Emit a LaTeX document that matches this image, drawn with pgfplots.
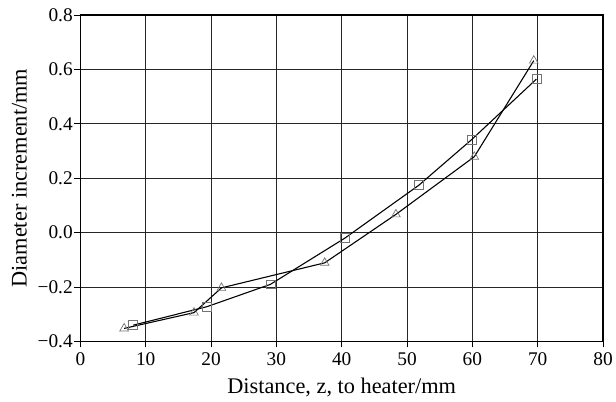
\documentclass[border=0pt]{standalone}
\usepackage{fontspec}
\setmainfont{Liberation Serif}
\usepackage{pgfplots}
\pgfplotsset{compat=1.18}

\begin{document}
\begin{tikzpicture}[x=1bp,y=1bp]
\begin{axis}[
    name=ax,
    scale only axis,
    width=525bp, height=328bp,
    xmin=0, xmax=80, ymin=-0.4, ymax=0.8,
    xtick={0,10,...,80},
    ytick={-0.4,-0.2,0,0.2,0.4,0.6,0.8},
    yticklabels={−0.4,−0.2,0.0,0.2,0.4,0.6,0.8},
    xtick pos=bottom, ytick pos=left,
    tick align=outside,
    major tick length=6bp,
    tick style={line width=0.8pt, black},
    grid=major,
    grid style={line width=1pt, draw=black!85},
    axis line style={line width=1.2pt},
    /pgf/number format/assume math mode=true,
    tick label style={font=\fontsize{19.5}{21}\selectfont},
    xticklabel style={yshift=-2bp},
    yticklabel style={inner xsep=1.5bp},
    label style={font=\fontsize{22.5}{24}\selectfont},
    xlabel={Distance, z, to heater/mm},
    ylabel={Diameter increment/mm},
    xlabel style={at={(axis description cs:0.5,0)}, anchor=base, yshift=-52bp},
    ylabel style={at={(axis description cs:0,0.5)}, anchor=base, rotate=0, yshift=54bp},
]
\addplot[black, line width=1.1pt, mark=square, mark size=4.5bp,
         mark options={fill=white, draw=black!55, line width=0.7pt}] coordinates {
    (8.1,-0.340) (19.4,-0.272) (29.1,-0.190) (40.5,-0.020)
    (51.8,0.174) (59.9,0.342) (69.8,0.564)
};
\addplot[black, line width=1.1pt, mark=triangle, mark size=5bp,
         mark options={fill=white, draw=black!55, line width=0.7pt}] coordinates {
    (6.7,-0.352) (17.4,-0.294) (21.6,-0.203) (37.4,-0.111)
    (48.3,0.067) (60.3,0.279) (69.4,0.632)
};
\end{axis}
\path (ax.south west) ++(-80.7bp,-60.3bp) rectangle ([shift={(10bp,15bp)}]ax.north east);
\end{tikzpicture}
\end{document}
